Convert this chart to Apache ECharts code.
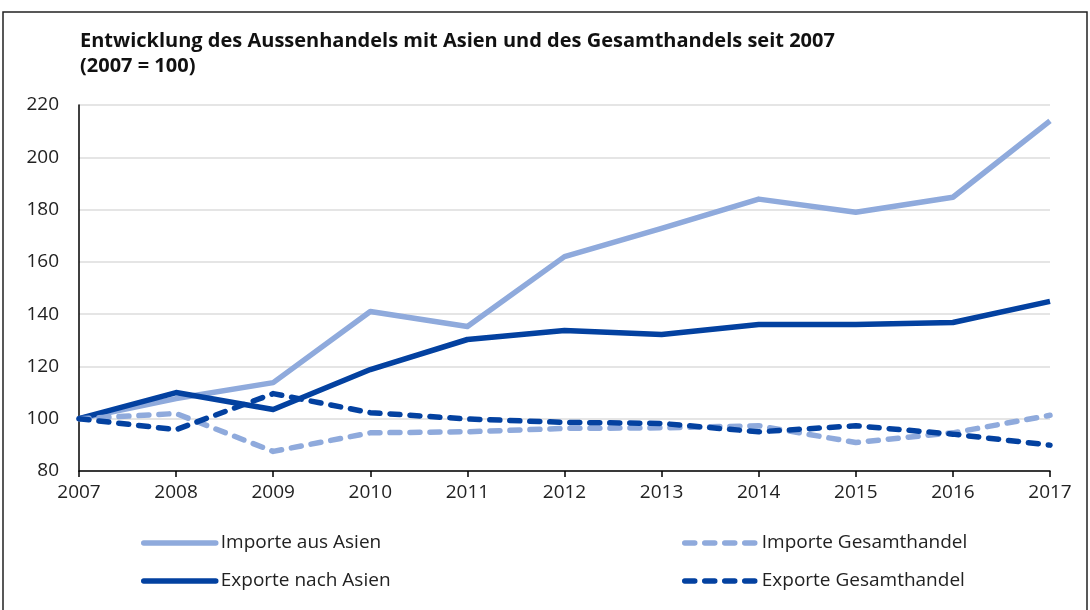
<!DOCTYPE html>
<html>
<head>
<meta charset="utf-8">
<script src="https://cdn.jsdelivr.net/npm/echarts@6/dist/echarts.min.js"></script>
<style>
html, body { margin: 0; padding: 0; background: #fff; }
#chart { width: 1090px; height: 610px; }
</style>
</head>
<body>
<div id="chart"></div>
<script>
// Jahre (x-Achse)
var years = ['2007', '2008', '2009', '2010', '2011', '2012', '2013', '2014', '2015', '2016', '2017'];
// Indexwerte, 2007 = 100
var importeAsien = [100, 107.7, 113.8, 141, 135.3, 162, 172.8, 184, 179, 184.7, 213.9];
var exporteAsien = [100, 110, 103.5, 118.8, 130.3, 133.7, 132.2, 136, 136, 136.8, 144.9];
var importeGesamt = [100, 102, 87.5, 94.6, 95, 96.3, 96.5, 97.3, 90.9, 94.6, 101.3];
var exporteGesamt = [100, 95.8, 109.6, 102.3, 99.9, 98.6, 98.2, 95, 97.3, 94.1, 89.9];

var hell = '#8FAADC';
var dunkel = '#0341A0';
var schrift = 'Open Sans';

function linie(name, data, color, dashed) {
    return {
        name: name,
        type: 'line',
        data: data,
        symbol: 'none',
        lineStyle: {
            color: color,
            width: 5.5,
            type: dashed ? [10, 10] : 'solid',
            cap: dashed ? 'round' : 'butt',
            join: 'round'
        },
        itemStyle: { color: color },
        z: dashed ? 3 : 2
    };
}

function legende(namen, links) {
    return {
        data: namen,
        orient: 'vertical',
        left: links,
        top: 530,
        padding: 0,
        itemWidth: 72,
        itemHeight: 14,
        itemGap: 12,
        itemStyle: { opacity: 0 },
        lineStyle: { width: 5.5, cap: 'round' },
        textStyle: { fontFamily: schrift, fontSize: 19, color: '#222', lineHeight: 26 }
    };
}

var myChart = echarts.init(document.getElementById('chart'));
var option = {
    animation: false,
    title: {
        text: 'Entwicklung des Aussenhandels mit Asien und des Gesamthandels seit 2007\n(2007 = 100)',
        left: 80,
        top: 29,
        padding: 0,
        textStyle: {
            fontFamily: schrift,
            fontSize: 20,
            fontWeight: 'bold',
            color: '#111',
            lineHeight: 25
        }
    },
    graphic: [{
        type: 'rect',
        shape: { x: 3, y: 12, width: 1084, height: 610 },
        style: { fill: 'none', stroke: '#222', lineWidth: 1.5 },
        silent: true
    }],
    legend: [
        legende(['Importe aus Asien', 'Exporte nach Asien'], 141),
        legende(['Importe Gesamthandel', 'Exporte Gesamthandel'], 682)
    ],
    grid: { left: 79, right: 40, top: 105, bottom: 139 },
    xAxis: {
        type: 'category',
        data: years,
        boundaryGap: false,
        axisLine: { lineStyle: { color: '#000', width: 1.5 } },
        axisTick: { show: true, length: 6, lineStyle: { color: '#000', width: 1.5 } },
        axisLabel: { fontFamily: schrift, fontSize: 19, color: '#222', margin: 12 },
        splitLine: { show: false }
    },
    yAxis: {
        type: 'value',
        min: 80,
        max: 220,
        interval: 20,
        axisLine: { show: true, lineStyle: { color: '#000', width: 1.5 } },
        axisTick: { show: false },
        axisLabel: { fontFamily: schrift, fontSize: 19, color: '#222', margin: 20 },
        splitLine: { lineStyle: { color: '#dcdcdc', width: 1.5 } }
    },
    series: [
        linie('Importe aus Asien', importeAsien, hell, false),
        linie('Exporte nach Asien', exporteAsien, dunkel, false),
        linie('Importe Gesamthandel', importeGesamt, hell, true),
        linie('Exporte Gesamthandel', exporteGesamt, dunkel, true)
    ]
};
myChart.setOption(option);
</script>
</body>
</html>
